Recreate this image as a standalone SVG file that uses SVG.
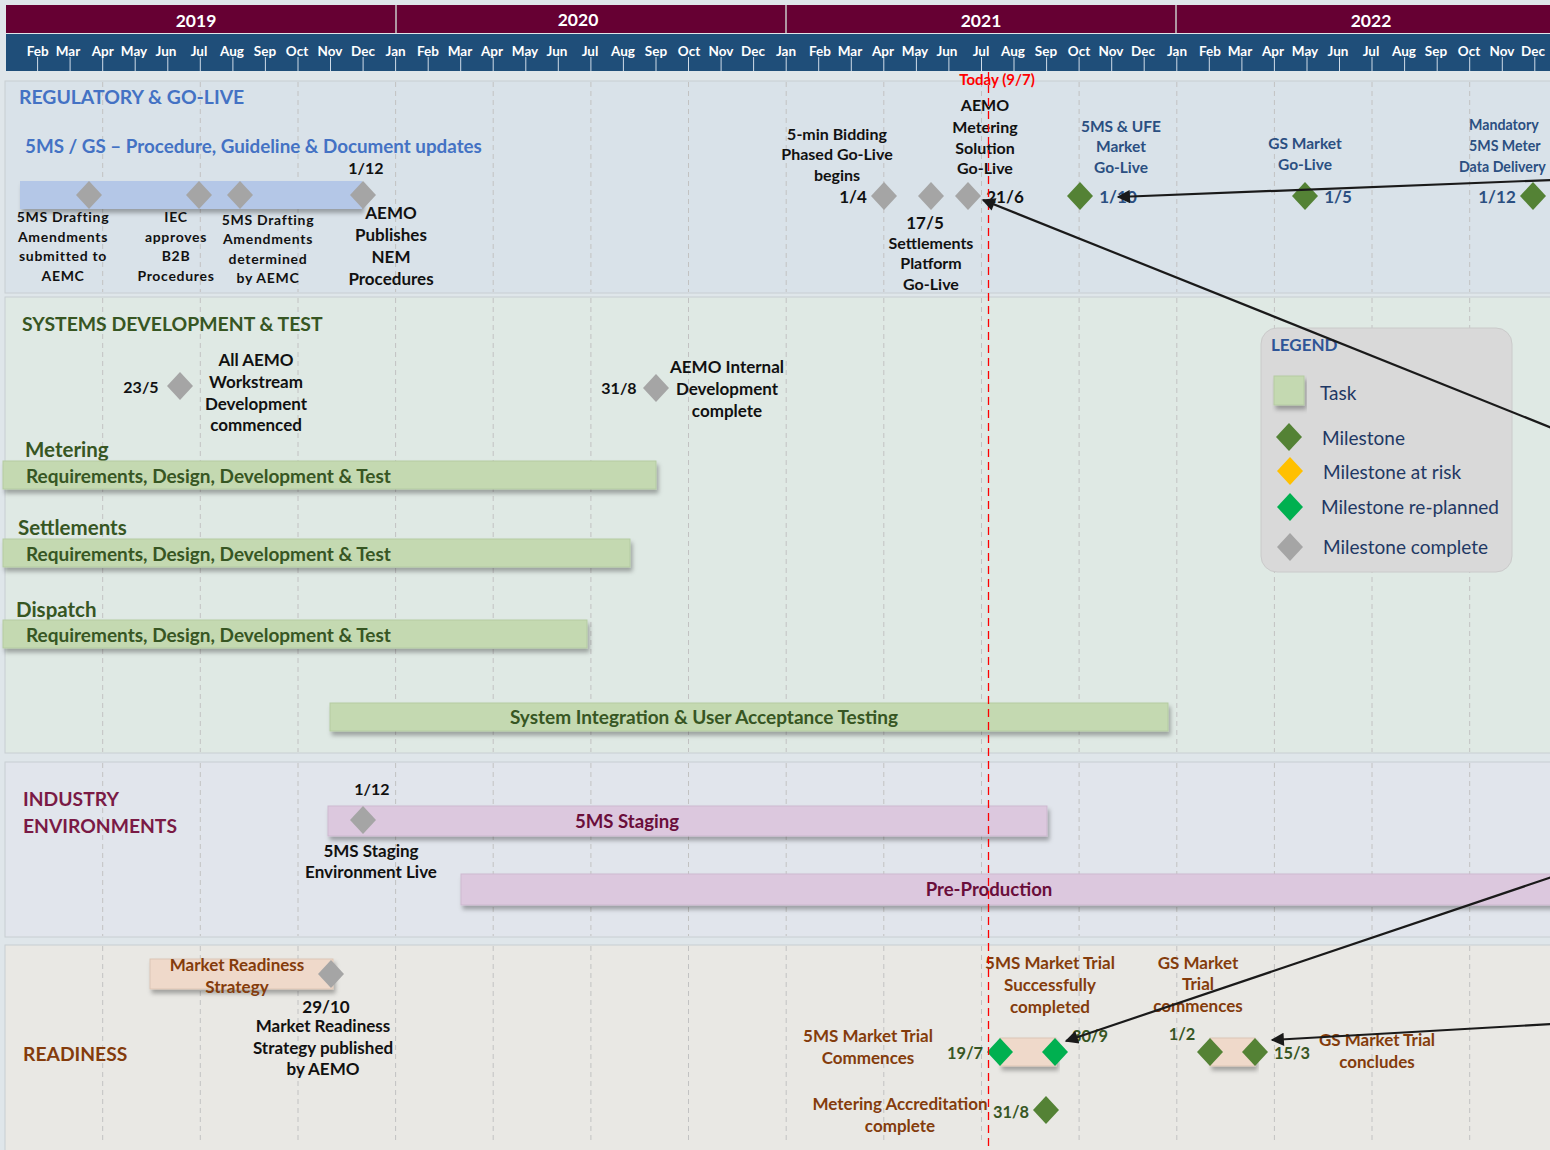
<svg xmlns="http://www.w3.org/2000/svg" xmlns:xlink="http://www.w3.org/1999/xlink" width="1550" height="1150" viewBox="0 0 1550 1150">
<defs>
<style>
text{font-family:Lato,"Open Sans","Liberation Sans",sans-serif;font-weight:bold;dominant-baseline:central}
.yr{fill:#fff;font-size:17.5px;text-anchor:middle}
.mo{fill:#fff;font-size:13.5px;text-anchor:middle}
.c{text-anchor:middle}
.blk{fill:#111;font-size:17px}
.b16{fill:#111;font-size:16px}
.sm{fill:#111;font-size:14px;letter-spacing:0.7px}
.blu{fill:#4472C4;font-size:19.4px}
.blu2{fill:#4472C4;font-size:18.8px}
.dblu{fill:#2B4F81;font-size:15.5px}
.grn{fill:#375623;font-size:19.4px}
.grn3{fill:#375623;font-size:20.5px}
.grn2{fill:#375623;font-size:19px}
.mar{fill:#7A1A45;font-size:19.3px}
.mar2{fill:#6A0E3B;font-size:18.6px}
.brn{fill:#843C0C;font-size:19.3px}
.brn2{fill:#843C0C;font-size:17px}
.dg{fill:#375623;font-size:16.4px}
.leg{fill:#1F3864;font-size:19px;font-weight:normal}
.grid{stroke:#C2C2C2;stroke-width:1;stroke-dasharray:5,4}
.gray{fill:#A5A5A5}
.gm{fill:#548235}
.bg{fill:#00B050}
.yl{fill:#FFC000}
.arr{stroke:#1A1A1A;stroke-width:2.2;fill:none;marker-end:url(#ah)}
</style>
<filter id="sh" x="-5%" y="-40%" width="112%" height="200%">
<feDropShadow dx="2" dy="4" stdDeviation="2" flood-color="#000" flood-opacity="0.3"/>
</filter>
<path id="dia" d="M0,-14 L13,0 L0,14 L-13,0Z"/>
<marker id="ah" viewBox="0 0 10 10" refX="9" refY="5" markerWidth="7" markerHeight="6" orient="auto" markerUnits="strokeWidth">
<path d="M0,0 L10,5 L0,10Z" fill="#1A1A1A"/>
</marker>
</defs>

<rect x="0" y="0" width="1550" height="1150" fill="#DFE6EA"/>

<g id="sections">
<rect x="5" y="81" width="1550" height="212" fill="#D9E2E9" stroke="#C8CED2"/>
<rect x="5" y="297" width="1550" height="456" fill="#DFE9E4" stroke="#C8CED2"/>
<rect x="5" y="762" width="1550" height="175" fill="#E1E5EC" stroke="#C8CED2"/>
<rect x="5" y="945" width="1550" height="210" fill="#E9E8E4" stroke="#C8CED2"/>
</g>

<g id="gridlines">
<g class="grid">
<path d="M102.7,82V292M200.3,82V292M298,82V292M395.6,82V292M493.2,82V292M590.9,82V292M688.5,82V292M786.2,82V292M883.8,82V292M981.5,82V292M1079.1,82V292M1176.8,82V292M1274.4,82V292M1372,82V292M1469.7,82V292"/>
<path d="M102.7,298V752M200.3,298V752M298,298V752M395.6,298V752M493.2,298V752M590.9,298V752M688.5,298V752M786.2,298V752M883.8,298V752M981.5,298V752M1079.1,298V752M1176.8,298V752M1274.4,298V752M1372,298V752M1469.7,298V752"/>
<path d="M102.7,763V936M200.3,763V936M298,763V936M395.6,763V936M493.2,763V936M590.9,763V936M688.5,763V936M786.2,763V936M883.8,763V936M981.5,763V936M1079.1,763V936M1176.8,763V936M1274.4,763V936M1372,763V936M1469.7,763V936"/>
<path d="M102.7,946V1140M200.3,946V1140M298,946V1140M395.6,946V1140M493.2,946V1140M590.9,946V1140M688.5,946V1140M786.2,946V1140M883.8,946V1140M981.5,946V1140M1079.1,946V1140M1176.8,946V1140M1274.4,946V1140M1372,946V1140M1469.7,946V1140"/>
</g>
</g>

<g id="header">
<rect x="6" y="5" width="1550" height="28" fill="#660033"/>
<path d="M396,5V33M786,5V33M1176,5V33" stroke="#C8C8C8" stroke-width="1.5"/>
<rect x="6" y="34" width="1550" height="37" fill="#1F4E79"/>
<text class="yr" x="196" y="20">2019</text>
<text class="yr" x="578" y="19">2020</text>
<text class="yr" x="981" y="20">2021</text>
<text class="yr" x="1371" y="20">2022</text>
<path stroke="#D0DCE8" stroke-width="1" d="M37.6,57V71M70.1,57V71M102.7,57V71M135.2,57V71M167.8,57V71M200.3,57V71M232.9,57V71M265.4,57V71M298,57V71M330.5,57V71M363.1,57V71M395.6,57V71M428.2,57V71M460.7,57V71M493.2,57V71M525.8,57V71M558.3,57V71M590.9,57V71M623.4,57V71M656,57V71M688.5,57V71M721.1,57V71M753.6,57V71M786.2,57V71M818.7,57V71M851.3,57V71M883.8,57V71M916.4,57V71M948.9,57V71M981.5,57V71M1014,57V71M1046.6,57V71M1079.1,57V71M1111.7,57V71M1144.2,57V71M1176.8,57V71M1209.3,57V71M1241.9,57V71M1274.4,57V71M1307,57V71M1339.5,57V71M1372,57V71M1404.6,57V71M1437.2,57V71M1469.7,57V71M1502.3,57V71M1534.8,57V71"/>
<g>
<text class="mo" x="37.6" y="51">Feb</text><text class="mo" x="68" y="51">Mar</text><text class="mo" x="102.7" y="51">Apr</text><text class="mo" x="134" y="51">May</text><text class="mo" x="166" y="51">Jun</text><text class="mo" x="199" y="51">Jul</text><text class="mo" x="232" y="51">Aug</text><text class="mo" x="265" y="51">Sep</text><text class="mo" x="297" y="51">Oct</text><text class="mo" x="330" y="51">Nov</text><text class="mo" x="363" y="51">Dec</text>
<text class="mo" x="395.6" y="51">Jan</text><text class="mo" x="428" y="51">Feb</text><text class="mo" x="460" y="51">Mar</text><text class="mo" x="492" y="51">Apr</text><text class="mo" x="525" y="51">May</text><text class="mo" x="557" y="51">Jun</text><text class="mo" x="590" y="51">Jul</text><text class="mo" x="623" y="51">Aug</text><text class="mo" x="656" y="51">Sep</text><text class="mo" x="689" y="51">Oct</text><text class="mo" x="721" y="51">Nov</text><text class="mo" x="753" y="51">Dec</text>
<text class="mo" x="786" y="51">Jan</text><text class="mo" x="820" y="51">Feb</text><text class="mo" x="850" y="51">Mar</text><text class="mo" x="883" y="51">Apr</text><text class="mo" x="915" y="51">May</text><text class="mo" x="947" y="51">Jun</text><text class="mo" x="981" y="51">Jul</text><text class="mo" x="1013" y="51">Aug</text><text class="mo" x="1046" y="51">Sep</text><text class="mo" x="1079" y="51">Oct</text><text class="mo" x="1111" y="51">Nov</text><text class="mo" x="1143" y="51">Dec</text>
<text class="mo" x="1177" y="51">Jan</text><text class="mo" x="1210" y="51">Feb</text><text class="mo" x="1240" y="51">Mar</text><text class="mo" x="1273" y="51">Apr</text><text class="mo" x="1305" y="51">May</text><text class="mo" x="1338" y="51">Jun</text><text class="mo" x="1371" y="51">Jul</text><text class="mo" x="1404" y="51">Aug</text><text class="mo" x="1436" y="51">Sep</text><text class="mo" x="1469" y="51">Oct</text><text class="mo" x="1502" y="51">Nov</text><text class="mo" x="1533" y="51">Dec</text>
</g>
</g>

<!-- REGULATORY -->
<g id="regulatory-title"><text class="blu" x="19" y="96">REGULATORY &amp; GO-LIVE</text></g>
<g id="procedure-updates">
<text class="blu2" x="25" y="145">5MS / GS – Procedure, Guideline &amp; Document updates</text>
<rect x="20" y="181" width="342" height="28" fill="#B4C7E7" filter="url(#sh)"/>
<text class="b16 c" x="366" y="167">1/12</text>
</g>
<g id="ms-drafting-submitted">
<use href="#dia" x="89" y="195" class="gray"/>
<text class="sm c" x="63" y="216">5MS Drafting</text><text class="sm c" x="63" y="236">Amendments</text><text class="sm c" x="63" y="255">submitted to</text><text class="sm c" x="63" y="275">AEMC</text>
</g>
<g id="iec-approves">
<use href="#dia" x="199" y="195" class="gray"/>
<text class="sm c" x="176" y="216">IEC</text><text class="sm c" x="176" y="236">approves</text><text class="sm c" x="176" y="255">B2B</text><text class="sm c" x="176" y="275">Procedures</text>
</g>
<g id="ms-drafting-determined">
<use href="#dia" x="240" y="195" class="gray"/>
<text class="sm c" x="268" y="219">5MS Drafting</text><text class="sm c" x="268" y="238">Amendments</text><text class="sm c" x="268" y="258">determined</text><text class="sm c" x="268" y="277">by AEMC</text>
</g>
<g id="aemo-publishes">
<use href="#dia" x="363" y="195" class="gray"/>
<text class="blk c" x="391" y="212">AEMO</text><text class="blk c" x="391" y="234">Publishes</text><text class="blk c" x="391" y="256">NEM</text><text class="blk c" x="391" y="278">Procedures</text>
</g>
<g id="bidding-golive">
<text class="b16 c" x="837" y="133">5-min Bidding</text><text class="b16 c" x="837" y="153">Phased Go-Live</text><text class="b16 c" x="837" y="174">begins</text>
<text class="blk c" x="853" y="196">1/4</text>
<use href="#dia" x="884" y="196" class="gray"/>
</g>
<g id="settlements-golive">
<use href="#dia" x="931" y="196" class="gray"/>
<text class="blk c" x="925" y="222">17/5</text>
<text class="b16 c" x="931" y="242">Settlements</text><text class="b16 c" x="931" y="262">Platform</text><text class="b16 c" x="931" y="283">Go-Live</text>
</g>
<g id="metering-golive">
<text class="b16 c" x="985" y="104">AEMO</text><text class="b16 c" x="985" y="126">Metering</text><text class="b16 c" x="985" y="147">Solution</text><text class="b16 c" x="985" y="167">Go-Live</text>
<use href="#dia" x="968" y="196" class="gray"/>
<text class="blk c" x="1005" y="196">21/6</text>
</g>
<g id="ufe-golive">
<text class="dblu c" x="1121" y="126">5MS &amp; UFE</text><text class="dblu c" x="1121" y="146">Market</text><text class="dblu c" x="1121" y="167">Go-Live</text>
<use href="#dia" x="1080" y="196" class="gm"/>
<text class="dblu c" x="1118" y="196" style="font-size:17px">1/10</text>
</g>
<g id="gs-golive">
<text class="dblu c" x="1305" y="143">GS Market</text><text class="dblu c" x="1305" y="164">Go-Live</text>
<use href="#dia" x="1305" y="196" class="gm"/>
<text class="dblu c" x="1338" y="196" style="font-size:17px">1/5</text>
</g>
<g id="mandatory-meter-data">
<text class="dblu" x="1469" y="124" style="font-size:14.2px">Mandatory</text><text class="dblu" x="1469" y="145" style="font-size:14.2px">5MS Meter</text><text class="dblu" x="1459" y="166" style="font-size:14.2px">Data Delivery</text>
<text class="dblu c" x="1497" y="196" style="font-size:17px">1/12</text>
<use href="#dia" x="1533" y="196" class="gm"/>
</g>

<!-- SYSTEMS -->
<g id="systems-title"><text class="grn" x="22" y="323">SYSTEMS DEVELOPMENT &amp; TEST</text></g>
<g id="workstream-commenced">
<text class="b16 c" x="141" y="386">23/5</text>
<use href="#dia" x="180" y="386" class="gray"/>
<text class="blk c" x="256" y="359">All AEMO</text><text class="blk c" x="256" y="381">Workstream</text><text class="blk c" x="256" y="403">Development</text><text class="blk c" x="256" y="424">commenced</text>
</g>
<g id="internal-dev-complete">
<text class="b16 c" x="619" y="387">31/8</text>
<use href="#dia" x="656" y="388" class="gray"/>
<text class="blk c" x="727" y="366">AEMO Internal</text><text class="blk c" x="727" y="388">Development</text><text class="blk c" x="727" y="410">complete</text>
</g>
<g id="metering-task">
<text class="grn3" x="25" y="449">Metering</text>
<rect x="3" y="461" width="653" height="28" fill="#C4D9B1" stroke="#B5CBA2" filter="url(#sh)"/>
<text class="grn2" x="26" y="475">Requirements, Design, Development &amp; Test</text>
</g>
<g id="settlements-task">
<text class="grn3" x="18" y="527">Settlements</text>
<rect x="3" y="539" width="627" height="28" fill="#C4D9B1" stroke="#B5CBA2" filter="url(#sh)"/>
<text class="grn2" x="26" y="553">Requirements, Design, Development &amp; Test</text>
</g>
<g id="dispatch-task">
<text class="grn3" x="16" y="609">Dispatch</text>
<rect x="3" y="620" width="584" height="28" fill="#C4D9B1" stroke="#B5CBA2" filter="url(#sh)"/>
<text class="grn2" x="26" y="634">Requirements, Design, Development &amp; Test</text>
</g>
<g id="sit-uat-task">
<rect x="330" y="703" width="838" height="28" fill="#C4D9B1" stroke="#B5CBA2" filter="url(#sh)"/>
<text class="grn2 c" x="704" y="716">System Integration &amp; User Acceptance Testing</text>
</g>

<!-- LEGEND -->
<g id="legend">
<rect x="1261" y="328" width="251" height="244" rx="16" fill="#D9D9D9" stroke="#CACACA"/>
<text x="1271" y="344" style="fill:#2F5597;font-size:17px">LEGEND</text>
<rect x="1274" y="376" width="30" height="29" fill="#C4D9B1" stroke="#B5CBA2" filter="url(#sh)"/>
<text class="leg" x="1320" y="392">Task</text>
<use href="#dia" x="1289" y="437" class="gm"/>
<text class="leg" x="1322" y="437">Milestone</text>
<use href="#dia" x="1290" y="471" class="yl"/>
<text class="leg" x="1323" y="471">Milestone at risk</text>
<use href="#dia" x="1290" y="507" class="bg"/>
<text class="leg" x="1321" y="506">Milestone re-planned</text>
<use href="#dia" x="1290" y="547" class="gray"/>
<text class="leg" x="1323" y="546">Milestone complete</text>
</g>

<!-- INDUSTRY -->
<g id="industry-title"><text class="mar" x="23" y="798">INDUSTRY</text><text class="mar" x="23" y="825">ENVIRONMENTS</text></g>
<g id="staging-task">
<rect x="328" y="806" width="719" height="30" fill="#DCC8DE" stroke="#CDB9CF" filter="url(#sh)"/>
<text class="mar2 c" x="627" y="821">5MS Staging</text>
</g>
<g id="staging-live">
<text class="b16 c" x="372" y="788">1/12</text>
<use href="#dia" x="363" y="820" class="gray"/>
<text class="blk c" x="371" y="850">5MS Staging</text><text class="blk c" x="371" y="871">Environment Live</text>
</g>
<g id="preproduction-task">
<rect x="461" y="874" width="1100" height="31" fill="#DCC8DE" stroke="#CDB9CF" filter="url(#sh)"/>
<text class="mar2 c" x="989" y="889">Pre-Production</text>
</g>

<!-- READINESS -->
<g id="readiness-title"><text class="brn" x="23" y="1053">READINESS</text></g>
<g id="market-readiness-strategy">
<rect x="150" y="959" width="183" height="30" fill="#EFD9CA" stroke="#DCC5B5" filter="url(#sh)"/>
<text class="brn2 c" x="237" y="964">Market Readiness</text><text class="brn2 c" x="237" y="986">Strategy</text>
<use href="#dia" x="331" y="974" class="gray"/>
<text class="blk c" x="326" y="1006">29/10</text>
<text class="blk c" x="323" y="1025">Market Readiness</text><text class="blk c" x="323" y="1047">Strategy published</text><text class="blk c" x="323" y="1068">by AEMO</text>
</g>
<g id="ms-market-trial">
<text class="brn2 c" x="868" y="1035">5MS Market Trial</text><text class="brn2 c" x="868" y="1057">Commences</text>
<text class="brn2 c" x="1050" y="962">5MS Market Trial</text><text class="brn2 c" x="1050" y="984">Successfully</text><text class="brn2 c" x="1050" y="1006">completed</text>
<rect x="1000" y="1038" width="56" height="28" fill="#EFD9CA" stroke="#DCC5B5" filter="url(#sh)"/>
<text class="dg c" x="965" y="1052">19/7</text>
<use href="#dia" x="1000" y="1052" class="bg"/>
<use href="#dia" x="1055" y="1052" class="bg"/>
<text class="dg c" x="1090" y="1035">30/9</text>
</g>
<g id="gs-market-trial">
<text class="brn2 c" x="1198" y="962">GS Market</text><text class="brn2 c" x="1198" y="983">Trial</text><text class="brn2 c" x="1198" y="1005">commences</text>
<text class="dg c" x="1182" y="1033">1/2</text>
<rect x="1210" y="1038" width="45" height="28" fill="#EFD9CA" stroke="#DCC5B5" filter="url(#sh)"/>
<use href="#dia" x="1210" y="1052" class="gm"/>
<use href="#dia" x="1255" y="1052" class="gm"/>
<text class="dg c" x="1292" y="1052">15/3</text>
<text class="brn2 c" x="1377" y="1039">GS Market Trial</text><text class="brn2 c" x="1377" y="1061">concludes</text>
</g>
<g id="metering-accreditation">
<text class="brn2 c" x="900" y="1103">Metering Accreditation</text><text class="brn2 c" x="900" y="1125">complete</text>
<text class="dg c" x="1011" y="1111">31/8</text>
<use href="#dia" x="1046" y="1110" class="gm"/>
</g>

<g id="today">
<line x1="988.5" y1="72" x2="988.5" y2="1150" stroke="#FF0000" stroke-width="1.3" stroke-dasharray="8,5"/>
<text x="997" y="79" text-anchor="middle" style="fill:#FF0000;font-size:15px">Today (9/7)</text>
</g>

<g id="connectors">
<line class="arr" x1="1552" y1="180" x2="1118" y2="197"/>
<line class="arr" x1="1552" y1="428" x2="983" y2="200"/>
<line class="arr" x1="1552" y1="877" x2="1066" y2="1041"/>
<line class="arr" x1="1552" y1="1024" x2="1272" y2="1040"/>
</g>
</svg>
